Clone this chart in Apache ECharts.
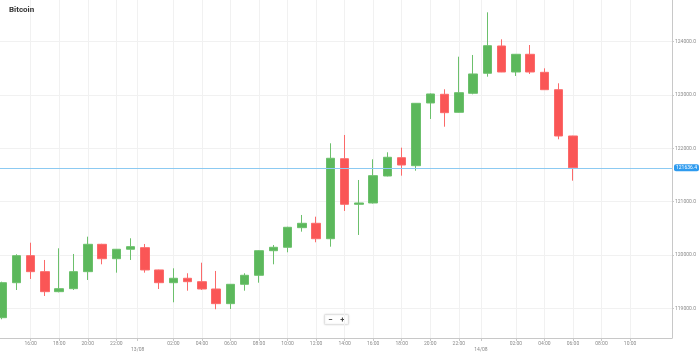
<!DOCTYPE html>
<html>
<head>
<meta charset="utf-8">
<script src="https://cdn.jsdelivr.net/npm/echarts@6/dist/echarts.min.js"></script>
<style>
html,body{margin:0;padding:0;background:#fff;}
#chart{width:699px;height:356px;}
</style>
</head>
<body>
<div id="chart"></div>
<script>
// Hour index (hours since 12/08 00:00), one candle per hour
const hours = [14,15,16,17,18,19,20,21,22,23,24,25,26,27,28,29,30,31,32,33,34,35,36,37,38,39,40,41,42,43,44,45,46,47,48,49,50,51,52,53,54];
const opens = [118825,119481,119988,119688,119313,119369,119688,120201,119931,120108,120138,119720,119481,119564,119500,119363,119088,119451,119620,120081,120145,120513,120595,120306,121806,120951,120976,121482,121825,121675,122851,123014,122676,123033,123408,123920,123432,123764,123426,123100,122232];
const closes = [119481,119988,119688,119313,119369,119688,120201,119931,120108,120157,119720,119481,119564,119500,119363,119088,119451,119620,120081,120145,120520,120595,120306,121814,120951,120976,121488,121833,121688,122845,123020,122669,123044,123395,123925,123432,123764,123432,123100,122232,121636.4];
const lows = [118795,119344,119551,119232,119300,119345,119532,119826,119669,119907,119669,119363,119114,119331,119345,118983,118988,119331,119481,119826,120051,120438,120239,120156,120826,120376,120965,121475,121488,121581,122551,122406,122670,123014,123344,123430,123357,123395,123095,122170,121394];
const highs = [119500,120014,120231,119907,120126,120020,120344,120210,120112,120314,120207,119725,119751,119658,119856,119701,119455,119658,120090,120188,120530,120751,120719,122095,122251,121407,121795,121926,122013,122850,123030,123108,123719,123751,124551,124045,123770,123938,123501,123220,122236];

// X-axis tick values (hour index) and their labels
const tickHours = [16,18,20,22,23.5,26,28,30,32,34,36,38,40,42,44,46,47.55,50,52,54,56,58];
const tickLabels = ['16:00','18:00','20:00','22:00','\n13/08','02:00','04:00','06:00','08:00','10:00','12:00','14:00','16:00','18:00','20:00','22:00','\n14/08','02:00','04:00','06:00','08:00','10:00'];

// Y-axis values shown
const priceTicks = [119000,120000,121000,122000,123000,124000];
const lastPrice = closes[closes.length - 1];

const candleData = hours.map((h, i) => [h, opens[i], closes[i], lows[i], highs[i]]);

const chart = echarts.init(document.getElementById('chart'), null, {renderer: 'canvas'});
const FONT = 'Roboto';

chart.setOption({
  animation: false,
  backgroundColor: '#ffffff',
  title: {
    text: 'Bitcoin',
    left: 9,
    top: 6,
    padding: 0,
    textStyle: {fontFamily: FONT, fontSize: 8, fontWeight: 'bold', color: '#333333'}
  },
  grid: {left: 0, right: 27, top: 0, bottom: 18, containLabel: false},
  xAxis: {
    type: 'value',
    min: 13.85,
    max: 60.94,
    axisLine: {show: true, onZero: false, lineStyle: {color: '#c8c8c8', width: 1}},
    axisTick: {show: true, customValues: tickHours, length: 3, lineStyle: {color: '#c8c8c8'}},
    axisLabel: {
      customValues: tickHours,
      fontFamily: FONT,
      fontSize: 5,
      color: '#8a8a8a',
      margin: 3,
      lineHeight: 6,
      formatter: function (v) {
        const i = tickHours.indexOf(v);
        return i >= 0 ? tickLabels[i] : '';
      }
    },
    splitLine: {show: true, lineStyle: {color: '#f1f1f1', width: 1}}
  },
  yAxis: {
    type: 'value',
    position: 'right',
    min: 118444,
    max: 124782,
    scale: true,
    axisLine: {show: true, lineStyle: {color: '#c8c8c8', width: 1}},
    axisTick: {show: true, customValues: priceTicks, length: 2, lineStyle: {color: '#c8c8c8'}},
    axisLabel: {
      customValues: priceTicks,
      fontFamily: FONT,
      fontSize: 5,
      color: '#8a8a8a',
      margin: 3,
      formatter: function (v) { return v.toFixed(1); }
    },
    splitLine: {show: true, lineStyle: {color: '#f1f1f1', width: 1}}
  },
  series: [{
    type: 'candlestick',
    data: candleData,
    encode: {x: 0, y: [1, 2, 3, 4]},
    barWidth: 9,
    itemStyle: {
      color: '#5cb85c',
      color0: '#fa5656',
      borderColor: '#6cc06c',
      borderColor0: '#fb6a6a',
      borderWidth: 1
    },
    markLine: {
      silent: true,
      symbol: ['none', 'none'],
      lineStyle: {color: '#8ccaf2', type: 'solid', width: 1},
      label: {
        show: true,
        position: 'end',
        distance: 2,
        fontFamily: FONT,
        fontSize: 5,
        color: '#ffffff',
        backgroundColor: '#2e9bef',
        borderRadius: 2,
        padding: [1, 2, 1, 2],
        formatter: function (p) { return Number(p.value).toFixed(1); }
      },
      data: [{yAxis: lastPrice}]
    }
  }],
  graphic: [{
    type: 'group',
    left: 324,
    top: 314,
    children: [
      {type: 'rect', shape: {x: 0, y: 0, width: 24, height: 10, r: 1},
       style: {fill: '#ffffff', stroke: '#e2e2e2', lineWidth: 1, shadowBlur: 2, shadowColor: 'rgba(0,0,0,0.12)'}},
      {type: 'text', x: 6, y: 5, style: {text: '\u2212', fontSize: 8, fontWeight: 'bold', fill: '#444', align: 'center', verticalAlign: 'middle', fontFamily: FONT}},
      {type: 'text', x: 18, y: 5, style: {text: '+', fontSize: 8, fontWeight: 'bold', fill: '#444', align: 'center', verticalAlign: 'middle', fontFamily: FONT}}
    ]
  }]
});
</script>
</body>
</html>
